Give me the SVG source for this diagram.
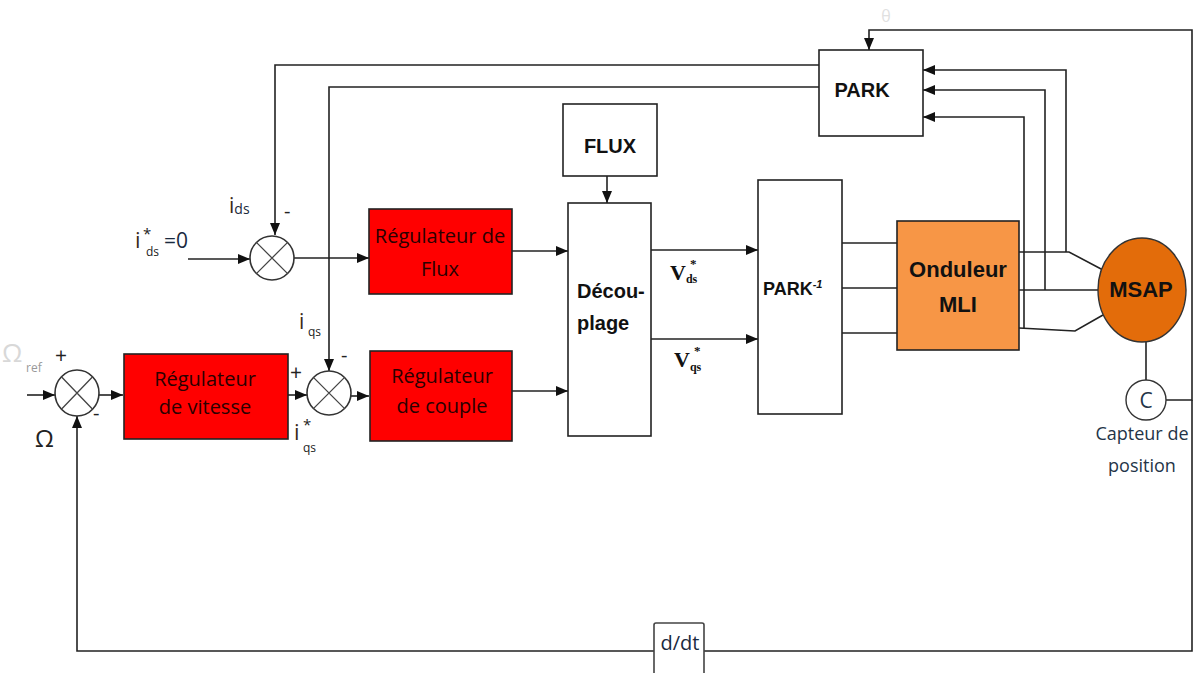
<svg xmlns="http://www.w3.org/2000/svg" width="1200" height="673" viewBox="0 0 1200 673">
<style>
.ln{fill:none;stroke:#222;stroke-width:1.6}
.box{fill:#fff;stroke:#222;stroke-width:1.6}
.red{fill:#ff0000;stroke:#222;stroke-width:1.6}
.sum{fill:#fff;stroke:#333;stroke-width:1.6}
.x{stroke:#444;stroke-width:1.3}
.reg{font-family:"Open Sans","Liberation Sans",sans-serif;font-size:20px;fill:#2a0000;text-anchor:middle}
.bold{font-family:"Liberation Sans","Open Sans",sans-serif;font-weight:bold;fill:#111;text-anchor:middle}
.bl{font-family:"Liberation Sans","Open Sans",sans-serif;font-weight:bold;fill:#111;text-anchor:start}
.lab{font-family:"Open Sans","Liberation Sans",sans-serif}
.v{font-family:"Liberation Serif",serif;font-weight:bold;fill:#111}
</style>
<defs>
<marker id="ar" markerWidth="12" markerHeight="10" refX="12" refY="5" orient="auto" markerUnits="userSpaceOnUse">
<path d="M0,0 L12,5 L0,10 Z" fill="#111"/>
</marker>
</defs>
<rect width="1200" height="673" fill="#fff"/>

<g id="connectors">
<path class="ln" d="M1166,400 H1192 V30 H869 V50" marker-end="url(#ar)"/>
<path class="ln" d="M1192,400 V651 H704"/>
<path class="ln" d="M654,651 H77 V416" marker-end="url(#ar)"/>
<path class="ln" d="M819,65 H275 V235" marker-end="url(#ar)"/>
<path class="ln" d="M819,87 H329 V371" marker-end="url(#ar)"/>
<path class="ln" d="M1066,252 V70 H923" marker-end="url(#ar)"/>
<path class="ln" d="M1045,290 V90 H923" marker-end="url(#ar)"/>
<path class="ln" d="M1024,328 V117 H923" marker-end="url(#ar)"/>
<path class="ln" d="M1019,252 H1069 L1103,270"/>
<path class="ln" d="M1019,290 H1098"/>
<path class="ln" d="M1019,328 L1075,331 L1103,315"/>
<path class="ln" d="M1146,342 V380"/>
<path class="ln" d="M842,243 H897"/>
<path class="ln" d="M842,288 H897"/>
<path class="ln" d="M842,333 H897"/>
<path class="ln" d="M188,259 H250" marker-end="url(#ar)"/>
<path class="ln" d="M294,258 H369" marker-end="url(#ar)"/>
<path class="ln" d="M512,251 H568" marker-end="url(#ar)"/>
<path class="ln" d="M607,176 V203" marker-end="url(#ar)"/>
<path class="ln" d="M651,250 H758" marker-end="url(#ar)"/>
<path class="ln" d="M651,339 H758" marker-end="url(#ar)"/>
<path class="ln" d="M27,395 H55" marker-end="url(#ar)"/>
<path class="ln" d="M99,395 H123" marker-end="url(#ar)"/>
<path class="ln" d="M288,395 H307" marker-end="url(#ar)"/>
<path class="ln" d="M351,396 H369" marker-end="url(#ar)"/>
<path class="ln" d="M512,391 H568" marker-end="url(#ar)"/>
</g>

<g id="park">
<rect class="box" x="819" y="50" width="104" height="86"/>
<text class="bold" x="862" y="97" font-size="20">PARK</text>
</g>
<g id="flux">
<rect class="box" x="563" y="104" width="94" height="72"/>
<text class="bold" x="610" y="153" font-size="20">FLUX</text>
</g>
<g id="decouplage">
<rect class="box" x="568" y="203" width="83" height="233"/>
<text class="bl" x="577" y="298" font-size="20">Décou-</text>
<text class="bl" x="577" y="330" font-size="20">plage</text>
</g>
<g id="parkinv">
<rect class="box" x="758" y="180" width="84" height="234"/>
<text class="bl" x="763" y="295" font-size="18">PARK<tspan font-size="11" dy="-7" font-style="italic">-1</tspan></text>
</g>
<g id="onduleur">
<rect x="897" y="221" width="122" height="129" fill="#f79646" stroke="#222" stroke-width="1.6"/>
<text class="bold" x="958" y="277" font-size="22">Onduleur</text>
<text class="bold" x="958" y="312" font-size="22">MLI</text>
</g>
<g id="msap">
<ellipse cx="1142" cy="290" rx="44" ry="52" fill="#e36c0a" stroke="#333" stroke-width="1.4"/>
<text class="bold" x="1141" y="297" font-size="22">MSAP</text>
</g>
<g id="capteur">
<circle cx="1146" cy="400" r="20" fill="#fff" stroke="#333" stroke-width="1.4"/>
<text class="lab" x="1146" y="408" font-size="21" text-anchor="middle" style="fill:#243447">C</text>
<text class="lab" x="1142" y="440" font-size="18" text-anchor="middle" style="fill:#243447">Capteur de</text>
<text class="lab" x="1142" y="472" font-size="18" text-anchor="middle" style="fill:#243447">position</text>
</g>
<g id="ddt">
<path d="M654,673 V625 Q654,623 656,623 H702 Q704,623 704,625 V673" fill="#fff" stroke="#444" stroke-width="1.6"/>
<text class="lab" x="680" y="650" font-size="20" text-anchor="middle" style="fill:#1a2a40">d/dt</text>
</g>
<g id="reg-flux">
<rect class="red" x="369" y="209" width="143" height="85"/>
<text class="reg" x="440" y="243">Régulateur de</text>
<text class="reg" x="440" y="276">Flux</text>
</g>
<g id="reg-vitesse">
<rect class="red" x="124" y="354" width="164" height="85"/>
<text class="reg" x="205" y="386">Régulateur</text>
<text class="reg" x="205" y="414">de vitesse</text>
</g>
<g id="reg-couple">
<rect class="red" x="370" y="351" width="142" height="90"/>
<text class="reg" x="442" y="383">Régulateur</text>
<text class="reg" x="442" y="413">de couple</text>
</g>
<g id="sum-d">
<circle class="sum" cx="272" cy="258" r="22"/>
<path class="x" d="M256.4,242.4 L287.6,273.6 M287.6,242.4 L256.4,273.6"/>
</g>
<g id="sum-w">
<ellipse class="sum" cx="77" cy="393" rx="22" ry="23"/>
<path class="x" d="M61.4,376.7 L92.6,409.3 M92.6,376.7 L61.4,409.3"/>
</g>
<g id="sum-q">
<circle class="sum" cx="329" cy="393" r="22"/>
<path class="x" d="M313.4,377.4 L344.6,408.6 M344.6,377.4 L313.4,408.6"/>
</g>

<g id="labels">
<text class="lab" x="886" y="22" font-size="16" text-anchor="middle" style="fill:#e0e0e0">θ</text>
<text class="lab" x="229" y="213" font-size="21" style="fill:#3a2a1a">i<tspan font-size="14" dy="1" style="fill:#1a2a40">ds</tspan></text>
<text class="lab" x="284" y="218" font-size="20" style="fill:#222">-</text>
<text class="lab" x="135" y="248" font-size="22" style="fill:#3a2a1a">i</text>
<text class="lab" x="143" y="239" font-size="15" style="fill:#222">*</text>
<text class="lab" x="146" y="256" font-size="12" style="fill:#222">ds</text>
<text class="lab" x="164" y="248" font-size="21" style="fill:#1a2a40">=0</text>
<text class="lab" x="2" y="362" font-size="26" style="fill:#d8d8d8">Ω</text>
<text class="lab" x="26" y="372" font-size="12" style="fill:#999">ref</text>
<text class="lab" x="55" y="363" font-size="21" style="fill:#222">+</text>
<text class="lab" x="93" y="420" font-size="20" style="fill:#222">-</text>
<text class="lab" x="35" y="447" font-size="24" style="fill:#222">Ω</text>
<text class="lab" x="299" y="329" font-size="21" style="fill:#3a2a1a">i</text>
<text class="lab" x="308" y="336" font-size="12" style="fill:#222">qs</text>
<text class="lab" x="341" y="362" font-size="20" style="fill:#222">-</text>
<text class="lab" x="290" y="380" font-size="21" style="fill:#222">+</text>
<text class="lab" x="294" y="440" font-size="22" style="fill:#3a2a1a">i</text>
<text class="lab" x="303" y="430" font-size="15" style="fill:#222">*</text>
<text class="lab" x="303" y="452" font-size="12" style="fill:#222">qs</text>
<text class="v" x="670" y="280" font-size="22">V<tspan font-size="12" dy="3">ds</tspan></text>
<text class="v" x="690" y="268" font-size="13">*</text>
<text class="v" x="674" y="367" font-size="22">V<tspan font-size="12" dy="4">qs</tspan></text>
<text class="v" x="694" y="355" font-size="13">*</text>
</g>
</svg>
